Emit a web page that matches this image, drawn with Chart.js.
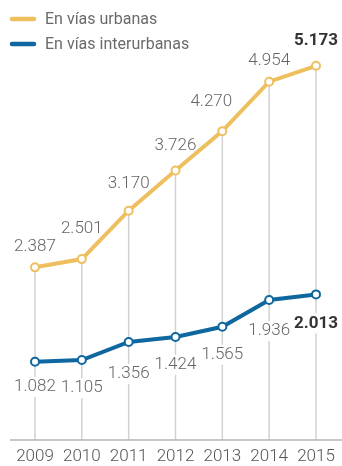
<!DOCTYPE html>
<html>
<head>
<meta charset="utf-8">
<script src="https://cdn.jsdelivr.net/npm/chart.js@4/dist/chart.umd.min.js"></script>
<style>
  html, body { margin: 0; padding: 0; background: #fff; }
  #wrap { position: relative; width: 342px; height: 466px; }
</style>
</head>
<body>
<div id="wrap"><canvas id="accidentes"></canvas></div>
<script>
const years = ["2009", "2010", "2011", "2012", "2013", "2014", "2015"];
const urbanas = [2387, 2501, 3170, 3726, 4270, 4954, 5173];
const interurbanas = [1082, 1105, 1356, 1424, 1565, 1936, 2013];

const AMARILLO = "#eebf5f";
const AZUL = "#0f67a0";
const FONT = "Roboto, 'Liberation Sans', sans-serif";

// 2.387 style: dot as thousands separator
function fmt(v) {
    return String(v).replace(/\B(?=(\d{3})+(?!\d))/g, ".");
}

// grey verticals from each urban point down to the axis + baseline
const guides = {
    id: "guides",
    beforeDatasetsDraw(chart) {
        const ctx = chart.ctx;
        const area = chart.chartArea;
        const meta = chart.getDatasetMeta(0);
        ctx.save();
        ctx.strokeStyle = "#d2d2d2";
        ctx.lineWidth = 1.5;
        meta.data.forEach(pt => {
            ctx.beginPath();
            ctx.moveTo(pt.x, pt.y);
            ctx.lineTo(pt.x, area.bottom);
            ctx.stroke();
        });
        ctx.strokeStyle = "#b5b5b5";
        ctx.beginPath();
        ctx.moveTo(10, area.bottom);
        ctx.lineTo(chart.width, area.bottom);
        ctx.stroke();

        // white patches under the value labels
        eachLabel(chart, (text, x, y, w) => {
            ctx.fillStyle = "#fff";
            ctx.fillRect(x - w / 2 - 3, y - 10, w + 6, 20);
        });
        ctx.restore();
    },
    afterDatasetsDraw(chart) {
        const ctx = chart.ctx;
        ctx.save();
        ctx.textAlign = "center";
        ctx.textBaseline = "middle";
        eachLabel(chart, (text, x, y, w, bold) => {
            ctx.font = (bold ? "bold " : "300 ") + "17px " + FONT;
            ctx.fillStyle = bold ? "#333" : "#666";
            ctx.fillText(text, x, y);
        });
        ctx.restore();
    }
};

function eachLabel(chart, fn) {
    const ctx = chart.ctx;
    const opts = chart.options.plugins.guides;
    chart.data.datasets.forEach((ds, di) => {
        const meta = chart.getDatasetMeta(di);
        const off = opts.offsets[di];
        meta.data.forEach((pt, i) => {
            const last = i === ds.data.length - 1;
            ctx.save();
            ctx.font = (last ? "bold " : "300 ") + "17px " + FONT;
            const text = fmt(ds.data[i]);
            const w = ctx.measureText(text).width;
            ctx.restore();
            const nudge = (off.nudge[i] || [0, 0]);
            fn(text, pt.x + nudge[0], pt.y + off.dy + nudge[1], w, last);
        });
    });
}

// legend drawn in the top-left corner
const leyenda = {
    id: "leyenda",
    afterDraw(chart) {
        const ctx = chart.ctx;
        ctx.save();
        ctx.font = "16px " + FONT;
        ctx.textBaseline = "middle";
        chart.data.datasets.forEach((ds, i) => {
            const y = 19 + i * 25;
            ctx.strokeStyle = ds.borderColor;
            ctx.lineWidth = 4.5;
            ctx.lineCap = "round";
            ctx.beginPath();
            ctx.moveTo(12, y);
            ctx.lineTo(34, y);
            ctx.stroke();
            ctx.fillStyle = "#6a6a6a";
            ctx.fillText(ds.label, 45, y + 1);
        });
        ctx.restore();
    }
};

new Chart(document.getElementById("accidentes"), {
    type: "line",
    data: {
        labels: years,
        datasets: [
            {
                label: "En vías urbanas",
                data: urbanas,
                borderColor: AMARILLO,
                backgroundColor: "#fff",
                borderWidth: 4,
                pointRadius: 4,
                pointBorderWidth: 2,
                pointBackgroundColor: "#fff",
                pointBorderColor: AMARILLO,
                tension: 0
            },
            {
                label: "En vías interurbanas",
                data: interurbanas,
                borderColor: AZUL,
                backgroundColor: "#fff",
                borderWidth: 4,
                pointRadius: 4,
                pointBorderWidth: 2,
                pointBackgroundColor: "#fff",
                pointBorderColor: AZUL,
                tension: 0
            }
        ]
    },
    options: {
        responsive: true,
        maintainAspectRatio: false,
        animation: false,
        layout: { padding: { left: 35, right: 26, top: 4, bottom: 0 } },
        plugins: {
            legend: { display: false },
            tooltip: { enabled: false },
            guides: {
                offsets: [
                    { dy: -25, nudge: { 0: [0, 4], 1: [0, -5], 2: [0, -2], 4: [-11, -4], 5: [0, 4] } },
                    { dy: 28, nudge: { 0: [0, -3], 2: [0, 4], 5: [0, 3], 6: [0, 1] } }
                ]
            }
        },
        scales: {
            x: {
                offset: false,
                grid: { display: false },
                border: { display: false },
                afterFit(scale) { scale.height = 26; },
                ticks: {
                    padding: -1,
                    color: "#555",
                    font: { family: FONT, size: 17, weight: 300 },
                    maxRotation: 0,
                    autoSkip: false
                }
            },
            y: {
                display: false,
                min: 0,
                max: 6000
            }
        }
    },
    plugins: [guides, leyenda]
});
</script>
</body>
</html>
